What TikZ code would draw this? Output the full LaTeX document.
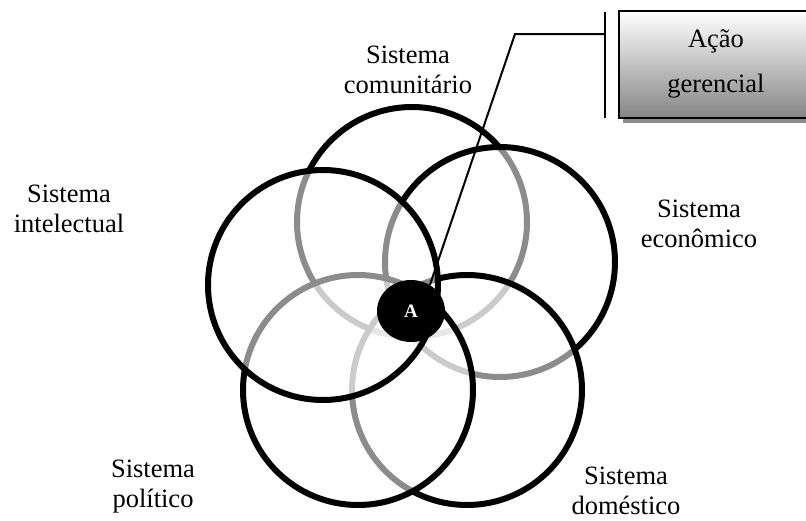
\documentclass[tikz,border=0pt]{standalone}
\usepackage{fontspec}
\setmainfont{Liberation Serif}
\usetikzlibrary{shapes.geometric,shadows}
\begin{document}
\begin{tikzpicture}[x=1pt,y=-1pt,
  ring/.style={draw=black,line width=6pt,fill=white,fill opacity=0.55},
  lbl/.style={align=center,inner sep=0pt,font=\fontsize{26.5}{30}\selectfont},
  wire/.style={line width=2pt},
  callbox/.style={draw=black,line width=1.8pt,minimum width=196pt,minimum height=107pt,
    top color=white,bottom color=black!48,
    drop shadow={shadow xshift=4pt,shadow yshift=-5pt,fill=black!45,opacity=1}},
  core/.style={ellipse,fill=black,minimum width=68pt,minimum height=62pt,inner sep=0pt,
    text=white,font=\fontsize{19}{22}\selectfont\bfseries}]
\useasboundingbox (0,0) rectangle (806,520);
\clip (0,0) rectangle (806,520);

% five interlocking systems, stacked from bottom to top
\draw[ring] (412,222) circle[radius=115]; % comunitario
\draw[ring] (500,262) circle[radius=115]; % economico
\draw[ring] (467,390) circle[radius=115]; % domestico
\draw[ring] (358,390) circle[radius=115]; % politico
\draw[ring] (323,285) circle[radius=115]; % intelectual

% system names
\node[lbl] (comunitario) at (408,72)  {\strut Sistema\\\strut comunitário};
\node[lbl] (intelectual) at (69,211)  {\strut Sistema\\\strut intelectual};
\node[lbl] (economico)   at (699,226) {\strut Sistema\\\strut econômico};
\node[lbl] (politico)    at (153,486) {\strut Sistema\\\strut político};
\node[lbl] (domestico)   at (626,493) {\strut Sistema\\\strut doméstico};

% callout box
\node[callbox] (box) at (717,64.5) {};
\node[lbl,font=\fontsize{26.5}{45}\selectfont] (boxtext) at (716,60.5) {\strut Ação\\\strut gerencial};

% central intersection
\node[core] (A) at (411,311) {A};

% leader line from the intersection to the box
\coordinate (bend)   at (515,34);
\coordinate (barmid) at (605,34);
\coordinate (bartop) at (605,12);
\coordinate (barbot) at (605,118);
\draw[wire] (A.54) -- (bend) -- (barmid);
\draw[wire,line width=2.3pt] (bartop) -- (barbot);
\end{tikzpicture}
\end{document}
